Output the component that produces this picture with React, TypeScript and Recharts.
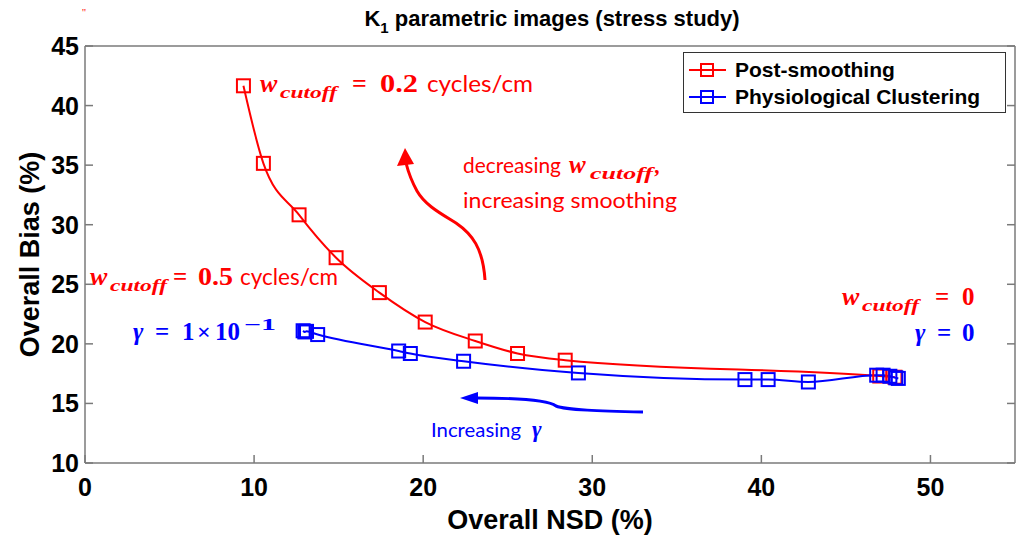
import { LineChart, Line, XAxis, YAxis, Legend } from 'recharts';

// NSD (%) vs bias (%) for the two denoising approaches
const nsdTicks = [0, 10, 20, 30, 40, 50];
const biasTicks = [10, 15, 20, 25, 30, 35, 40, 45];
const seriesNames = ['Post-smoothing', 'Physiological Clustering'];

const postSmoothNsd = [9.37, 10.55, 12.66, 14.85, 17.41, 20.12, 23.08, 25.58, 28.4, 47.0, 47.9];
const postSmoothBias = [41.66, 35.15, 30.83, 27.23, 24.3, 21.83, 20.24, 19.19, 18.63, 17.3, 17.2];

const clusterNsd = [12.9, 13.0, 13.1, 13.76, 18.55, 19.24, 22.39, 29.18, 39.03, 40.4, 42.78, 46.82, 47.2, 47.6, 47.95, 48.1];
const clusterBias = [21.1, 21.0, 21.05, 20.78, 19.4, 19.19, 18.54, 17.56, 17.0, 17.0, 16.8, 17.37, 17.37, 17.28, 17.15, 17.1];

const postSmoothData = postSmoothNsd.map((nsd, i) => ({ nsd, bias: postSmoothBias[i] }));
const clusterData = clusterNsd.map((nsd, i) => ({ nsd, bias: clusterBias[i] }));

const AXIS = '#7a7a7a';
const RED = '#ff0000';
const BLUE = '#0000ff';
const SANS = "'Liberation Sans', Arial, sans-serif";
const MATH = "'Liberation Serif', 'DejaVu Serif', serif";
const BODY = "Lato, 'Open Sans', sans-serif";

const tickFont = { fontFamily: SANS, fontWeight: 700, fontSize: 25, fill: '#000' };

function BottomTick({ x, y, payload }: any) {
  return (
    <g>
      <line x1={x} x2={x} y1={y} y2={y - 8} stroke={AXIS} strokeWidth={1.5} />
      <text x={x} y={y + 24} textAnchor="middle" dominantBaseline="central" style={tickFont}>
        {payload.value}
      </text>
    </g>
  );
}

function LeftTick({ x, y, payload }: any) {
  return (
    <g>
      <line x1={x} x2={x + 8} y1={y} y2={y} stroke={AXIS} strokeWidth={1.5} />
      <text x={x - 6} y={y} textAnchor="end" dominantBaseline="central" style={tickFont}>
        {payload.value}
      </text>
    </g>
  );
}

function TopTick({ x, y }: any) {
  return <line x1={x} x2={x} y1={y} y2={y + 8} stroke={AXIS} strokeWidth={1.5} />;
}

function RightTick({ x, y }: any) {
  return <line x1={x} x2={x - 8} y1={y} y2={y} stroke={AXIS} strokeWidth={1.5} />;
}

function SquareDot({ cx, cy, stroke }: any) {
  if (cx == null || cy == null) return null;
  return <rect x={cx - 6.5} y={cy - 6.5} width={13} height={13} fill="none" stroke={stroke} strokeWidth={2} />;
}

function YLabel({ viewBox }: any) {
  const { y, height } = viewBox;
  return (
    <text
      transform={`translate(30,${y + height / 2}) rotate(-90)`}
      textAnchor="middle"
      dominantBaseline="central"
      style={{ fontFamily: SANS, fontWeight: 700, fontSize: 27, fill: '#000' }}
    >
      Overall Bias (%)
    </text>
  );
}

function XLabel({ viewBox }: any) {
  const { x, width } = viewBox;
  return (
    <text
      x={x + width / 2}
      y={520}
      textAnchor="middle"
      dominantBaseline="central"
      style={{ fontFamily: SANS, fontWeight: 700, fontSize: 27, fill: '#000' }}
    >
      Overall NSD (%)
    </text>
  );
}

function LegendBox({ payload }: any) {
  const items = [...(payload || [])].sort(
    (a: any, b: any) => seriesNames.indexOf(a.value) - seriesNames.indexOf(b.value)
  );
  return (
    <div
      style={{
        border: '1px solid #333',
        background: '#fff',
        height: 61,
        boxSizing: 'border-box',
        padding: '3px 0 0 4px',
      }}
    >
      {items.map((entry: any) => (
        <div key={entry.value} style={{ display: 'flex', alignItems: 'center', height: 27 }}>
          <svg width={40} height={20}>
            <line x1={1} x2={38} y1={10} y2={10} stroke={entry.color} strokeWidth={2} />
            <rect x={13} y={4} width={12} height={12} fill="none" stroke={entry.color} strokeWidth={2} />
          </svg>
          <span style={{ fontFamily: SANS, fontWeight: 700, fontSize: 21, marginLeft: 7, color: '#000' }}>
            {entry.value}
          </span>
        </div>
      ))}
    </div>
  );
}

const mathStyle = { fontFamily: MATH, fontStyle: 'italic', fontWeight: 700 } as const;
const numStyle = { fontFamily: MATH, fontWeight: 700 } as const;
const bodyStyle = { fontFamily: BODY, fontWeight: 400 } as const;

function Wcutoff({ x, y, fill }: { x: number; y: number; fill: string }) {
  return (
    <>
      <text x={x} y={y} fill={fill} fontSize={26} style={mathStyle}>w</text>
      <text x={x + 20} y={y + 6} fill={fill} fontSize={17} style={mathStyle} textLength={57} lengthAdjust="spacingAndGlyphs">
        cutoff
      </text>
    </>
  );
}

function Annotations() {
  return (
    <svg width={1016} height={536} style={{ position: 'absolute', left: 0, top: 0, pointerEvents: 'none' }}>
      <text x={82} y={16} fill={RED} fontSize={11}>''</text>

      <text x={552} y={26} textAnchor="middle" style={{ fontFamily: SANS, fontWeight: 700, fontSize: 22 }}>
        K<tspan fontSize={15} dy={7}>1</tspan>
        <tspan dy={-7}> parametric images (stress study)</tspan>
      </text>

      {/* upper post-smoothing end */}
      <Wcutoff x={260} y={92} fill={RED} />
      <text x={352} y={92} fill={RED} fontSize={26} style={numStyle}>=</text>
      <text x={380} y={92} fill={RED} fontSize={26} style={numStyle} textLength={38} lengthAdjust="spacingAndGlyphs">0.2</text>
      <text x={427} y={92} fill={RED} fontSize={24} style={bodyStyle} textLength={106} lengthAdjust="spacingAndGlyphs">cycles/cm</text>

      {/* direction of smoothing */}
      <text x={463} y={173} fill={RED} fontSize={22} style={bodyStyle} textLength={98} lengthAdjust="spacingAndGlyphs">decreasing</text>
      <text x={569} y={173} fill={RED} fontSize={25} style={mathStyle}>w</text>
      <text x={590} y={179} fill={RED} fontSize={16} style={mathStyle} textLength={63} lengthAdjust="spacingAndGlyphs">cutoff</text>
      <text x={655} y={173} fill={RED} fontSize={22} style={mathStyle}>,</text>
      <text x={463} y={208} fill={RED} fontSize={22} style={bodyStyle} textLength={214} lengthAdjust="spacingAndGlyphs">increasing smoothing</text>
      <path
        d="M485,280 C483,248 472,234 456,223 C440,213 425,205 417,191 C411,180 408,171 406,163"
        fill="none"
        stroke={RED}
        strokeWidth={3}
      />
      <polygon points="405,148 397,166 414,164" fill={RED} />

      <Wcutoff x={90} y={285} fill={RED} />
      <text x={173} y={285} fill={RED} fontSize={25} style={numStyle}>=</text>
      <text x={198} y={285} fill={RED} fontSize={25} style={numStyle} textLength={35} lengthAdjust="spacingAndGlyphs">0.5</text>
      <text x={240} y={285} fill={RED} fontSize={23} style={bodyStyle} textLength={98} lengthAdjust="spacingAndGlyphs">cycles/cm</text>

      {/* clustering end points */}
      <text x={133} y={340} fill={BLUE} fontSize={25} style={mathStyle}>γ</text>
      <text x={155} y={340} fill={BLUE} fontSize={25} style={numStyle}>=</text>
      <text x={182} y={340} fill={BLUE} fontSize={25} style={numStyle}>1</text>
      <text x={197} y={340} fill={BLUE} fontSize={24} style={numStyle}>×</text>
      <text x={215} y={340} fill={BLUE} fontSize={25} style={numStyle} textLength={25} lengthAdjust="spacingAndGlyphs">10</text>
      <text x={244} y={330} fill={BLUE} fontSize={16} style={numStyle} textLength={32} lengthAdjust="spacingAndGlyphs">−1</text>

      <Wcutoff x={842} y={305} fill={RED} />
      <text x={935} y={305} fill={RED} fontSize={25} style={numStyle}>=</text>
      <text x={962} y={305} fill={RED} fontSize={25} style={numStyle}>0</text>

      <text x={915} y={341} fill={BLUE} fontSize={25} style={mathStyle}>γ</text>
      <text x={937} y={341} fill={BLUE} fontSize={25} style={numStyle}>=</text>
      <text x={962} y={341} fill={BLUE} fontSize={25} style={numStyle}>0</text>

      {/* direction of clustering */}
      <path
        d="M643,412 C600,411 566,410 556,406 C548,400 520,398 476,398"
        fill="none"
        stroke={BLUE}
        strokeWidth={3}
      />
      <polygon points="460,398 478,392 478,404" fill={BLUE} />
      <text x={431} y={437} fill={BLUE} fontSize={20} style={bodyStyle} textLength={90} lengthAdjust="spacingAndGlyphs">Increasing</text>
      <text x={532} y={437} fill={BLUE} fontSize={23} style={mathStyle}>γ</text>
    </svg>
  );
}

export default function App() {
  return (
    <div style={{ position: 'absolute', left: 0, top: 0, width: 1016, height: 536, background: '#fff' }}>
      <LineChart width={1016} height={536} margin={{ top: 0, right: 0, bottom: 0, left: 0 }}>
        <XAxis
          xAxisId="0"
          type="number"
          dataKey="nsd"
          domain={[0, 55]}
          ticks={nsdTicks}
          interval={0}
          allowDataOverflow
          height={73}
          stroke={AXIS}
          strokeWidth={1.5}
          tickLine={false}
          tickSize={0}
          tickMargin={0}
          tick={BottomTick}
          label={{ content: XLabel }}
        />
        <XAxis
          xAxisId="top"
          orientation="top"
          type="number"
          domain={[0, 55]}
          ticks={nsdTicks}
          interval={0}
          allowDataOverflow
          height={46}
          stroke={AXIS}
          strokeWidth={1.5}
          tickLine={false}
          tickSize={0}
          tickMargin={0}
          tick={TopTick}
        />
        <YAxis
          yAxisId="0"
          type="number"
          domain={[10, 45]}
          ticks={biasTicks}
          interval={0}
          allowDataOverflow
          width={85}
          stroke={AXIS}
          strokeWidth={1.5}
          tickLine={false}
          tickSize={0}
          tickMargin={0}
          tick={LeftTick}
          label={{ content: YLabel }}
        />
        <YAxis
          yAxisId="right"
          orientation="right"
          type="number"
          domain={[10, 45]}
          ticks={biasTicks}
          interval={0}
          allowDataOverflow
          width={1}
          stroke={AXIS}
          strokeWidth={1.5}
          tickLine={false}
          tickSize={0}
          tickMargin={0}
          tick={RightTick}
        />
        <Legend
          layout="horizontal"
          verticalAlign="middle"
          align="center"
          wrapperStyle={{ top: 52, left: 683, width: 323 }}
          content={LegendBox}
        />
        <Line
          xAxisId="0"
          yAxisId="0"
          data={postSmoothData}
          dataKey="bias"
          name="Post-smoothing"
          type="monotone"
          stroke={RED}
          strokeWidth={2}
          dot={SquareDot}
          activeDot={false}
          isAnimationActive={false}
        />
        <Line
          xAxisId="0"
          yAxisId="0"
          data={clusterData}
          dataKey="bias"
          name="Physiological Clustering"
          type="monotone"
          stroke={BLUE}
          strokeWidth={2}
          dot={SquareDot}
          activeDot={false}
          isAnimationActive={false}
        />
      </LineChart>
      <Annotations />
    </div>
  );
}
